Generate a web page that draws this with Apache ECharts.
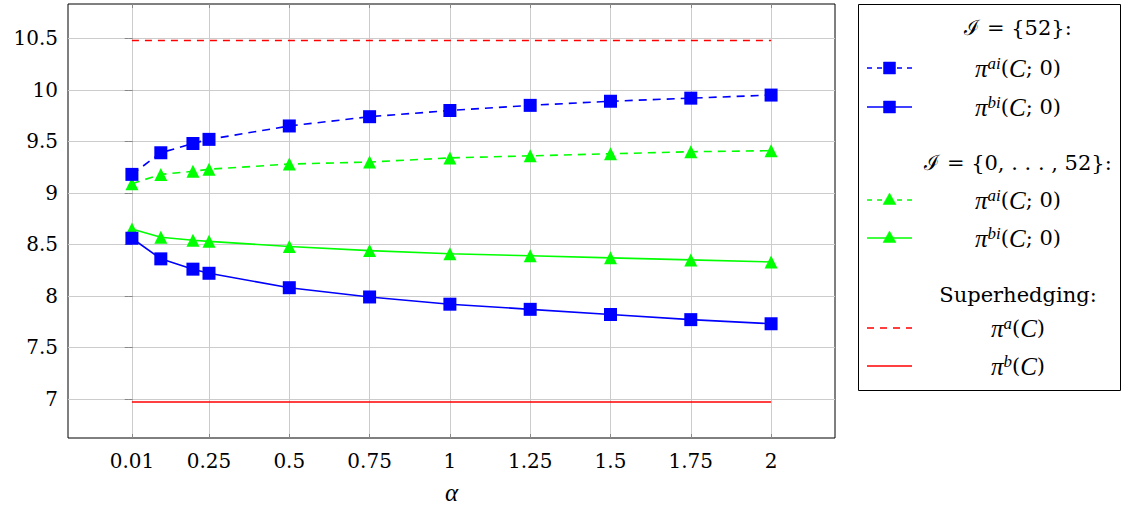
<!DOCTYPE html>
<html><head><meta charset="utf-8">
<script src="https://cdn.jsdelivr.net/npm/echarts@6/dist/echarts.min.js"></script>
<style>html,body{margin:0;padding:0;background:#fff}#c{width:1127px;height:509px}</style>
</head><body><div id="c"></div>
<script>
const alpha = [0.01, 0.1, 0.2, 0.25, 0.5, 0.75, 1, 1.25, 1.5, 1.75, 2];
const askI52 = [9.18, 9.39, 9.48, 9.52, 9.65, 9.74, 9.80, 9.85, 9.89, 9.92, 9.95];
const bidI52 = [8.56, 8.36, 8.26, 8.22, 8.08, 7.99, 7.92, 7.87, 7.82, 7.77, 7.73];
const askIAll = [9.09, 9.18, 9.21, 9.23, 9.28, 9.30, 9.34, 9.36, 9.38, 9.40, 9.41];
const bidIAll = [8.65, 8.57, 8.54, 8.53, 8.48, 8.44, 8.41, 8.39, 8.37, 8.35, 8.33];
const superAsk = 10.48;
const superBid = 6.97;
const xTicks = [0.01, 0.25, 0.5, 0.75, 1, 1.25, 1.5, 1.75, 2];
const xTickLabels = ['0.01', '0.25', '0.5', '0.75', '1', '1.25', '1.5', '1.75', '2'];
const yTicks = [7, 7.5, 8, 8.5, 9, 9.5, 10, 10.5];
const yTickLabels = ['7', '7.5', '8', '8.5', '9', '9.5', '10', '10.5'];

const FONT = "'DejaVu Serif', serif";
const IFONT = "'Liberation Serif', serif";
const BLUE = '#0000ff', GREEN = '#00ff00', RED = '#ff0000';
const pair = (xs, ys) => xs.map((x, i) => [x, ys[i]]);
const flat = (v) => [[alpha[0], v], [alpha[alpha.length - 1], v]];

const chart = echarts.init(document.getElementById('c'), null, {renderer: 'svg'});

const tickStyle = {show: true, inside: true, length: 4, lineStyle: {color: '#888', width: 1}};
const xAxisBase = {type: 'value', min: -0.189, max: 2.199};
const yAxisBase = {type: 'value', min: 6.621, max: 10.834};

const LS = 21;
const rich = {
  i: {fontFamily: IFONT, fontStyle: 'italic', fontSize: 25, lineHeight: 26},
  n: {fontFamily: FONT, fontSize: LS, lineHeight: 26},
  s: {fontFamily: IFONT, fontStyle: 'italic', fontSize: 17, lineHeight: 15, verticalAlign: 'top'}
};
const lx1 = 867, lx2 = 912, lmx = 889.5, tx = 1018;
function txt(y, text) {
  return {type: 'text', x: tx, y: y, style: {text: text, rich: rich, align: 'center', verticalAlign: 'middle', fill: '#000', fontFamily: FONT, fontSize: LS}};
}
function plain(y, text) {
  return {type: 'text', x: tx, y: y, style: {text: text, align: 'center', verticalAlign: 'middle', fill: '#000', fontFamily: FONT, fontSize: LS}};
}
function ln(y, color, dash) {
  return {type: 'line', shape: {x1: lx1, y1: y, x2: lx2, y2: y}, style: {stroke: color, lineWidth: 1.6, lineDash: dash || null}};
}
function sq(y) {
  return {type: 'rect', shape: {x: lmx - 6, y: y - 6, width: 12, height: 12}, style: {fill: BLUE, stroke: BLUE, lineWidth: 0.5}};
}
function tri(y) {
  return {type: 'polygon', shape: {points: [[lmx, y - 7], [lmx - 6.5, y + 4.5], [lmx + 6.5, y + 4.5]]}, style: {fill: GREEN, stroke: GREEN, lineWidth: 0.5}};
}

const graphic = [
  {type: 'rect', shape: {x: 858.5, y: 4.5, width: 262, height: 386}, style: {fill: '#fff', stroke: '#000', lineWidth: 1}},
  plain(28, 'ℐ = {52}:'),
  ln(68, BLUE, [5, 5]), sq(68), txt(68, '{i|π}{s|ai}{n|(}{i|C}{n|; 0)}'),
  ln(107, BLUE), sq(107), txt(107, '{i|π}{s|bi}{n|(}{i|C}{n|; 0)}'),
  plain(163, 'ℐ = {0, . . . , 52}:'),
  ln(200, GREEN, [5, 5]), tri(200), txt(200, '{i|π}{s|ai}{n|(}{i|C}{n|; 0)}'),
  ln(238, GREEN), tri(238), txt(238, '{i|π}{s|bi}{n|(}{i|C}{n|; 0)}'),
  plain(295, 'Superhedging:'),
  ln(328, RED, [7, 6]), txt(328, '{i|π}{s|a}{n|(}{i|C}{n|)}'),
  ln(366, RED), txt(366, '{i|π}{s|b}{n|(}{i|C}{n|)}')
];

const option = {
  animation: false,
  backgroundColor: '#fff',
  textStyle: {fontFamily: FONT},
  grid: {left: 68, top: 4, right: 292, bottom: 71, containLabel: false, outerBoundsMode: 'none',
    show: true, borderColor: '#000', borderWidth: 1, backgroundColor: 'transparent'},
  xAxis: [
    Object.assign({}, xAxisBase, {
      position: 'bottom',
      name: 'α', nameLocation: 'middle', nameGap: 42,
      nameTextStyle: {fontFamily: IFONT, fontStyle: 'italic', fontSize: 25, color: '#000'},
      axisLine: {show: false},
      axisTick: Object.assign({customValues: xTicks}, tickStyle),
      axisLabel: {customValues: xTicks, margin: 13, fontFamily: FONT, fontSize: 20, color: '#000',
        formatter: (v) => { const k = xTicks.indexOf(v); return k >= 0 ? xTickLabels[k] : String(v); }},
      splitLine: {show: true, lineStyle: {color: '#cccccc', width: 1}}
    }),
    Object.assign({}, xAxisBase, {
      position: 'top',
      axisLine: {show: false},
      axisTick: Object.assign({customValues: xTicks}, tickStyle),
      axisLabel: {show: false, customValues: xTicks},
      splitLine: {show: false}
    })
  ],
  yAxis: [
    Object.assign({}, yAxisBase, {
      position: 'left',
      axisLine: {show: false},
      axisTick: Object.assign({customValues: yTicks}, tickStyle),
      axisLabel: {customValues: yTicks, margin: 10, fontFamily: FONT, fontSize: 20, color: '#000',
        formatter: (v) => { const k = yTicks.indexOf(v); return k >= 0 ? yTickLabels[k] : String(v); }},
      splitLine: {show: true, lineStyle: {color: '#cccccc', width: 1}}
    }),
    Object.assign({}, yAxisBase, {
      position: 'right',
      axisLine: {show: false},
      axisTick: Object.assign({customValues: yTicks}, tickStyle),
      axisLabel: {show: false, customValues: yTicks},
      splitLine: {show: false}
    })
  ],
  series: [
    {name: 'superAsk', type: 'line', data: flat(superAsk), symbol: 'none', lineStyle: {color: RED, width: 1.6, type: [7, 6]}, z: 2},
    {name: 'superBid', type: 'line', data: flat(superBid), symbol: 'none', lineStyle: {color: RED, width: 1.6}, z: 2},
    {name: 'askIAll', type: 'line', data: pair(alpha, askIAll), symbol: 'triangle', symbolSize: 13,
      itemStyle: {color: GREEN}, lineStyle: {color: GREEN, width: 1.6, type: [8, 6]}, z: 3},
    {name: 'bidIAll', type: 'line', data: pair(alpha, bidIAll), symbol: 'triangle', symbolSize: 13,
      itemStyle: {color: GREEN}, lineStyle: {color: GREEN, width: 1.6}, z: 3},
    {name: 'askI52', type: 'line', data: pair(alpha, askI52), symbol: 'rect', symbolSize: 13,
      itemStyle: {color: BLUE}, lineStyle: {color: BLUE, width: 1.6, type: [8, 6]}, z: 4},
    {name: 'bidI52', type: 'line', data: pair(alpha, bidI52), symbol: 'rect', symbolSize: 13,
      itemStyle: {color: BLUE}, lineStyle: {color: BLUE, width: 1.6}, z: 4}
  ],
  graphic: graphic
};
chart.setOption(option);
</script>
</body></html>
